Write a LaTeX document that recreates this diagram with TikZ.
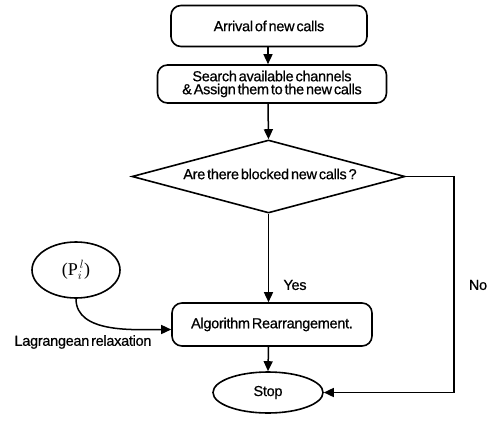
\documentclass[tikz,border=0pt]{standalone}
\usepackage{fontspec}
\setmainfont{Liberation Sans}[WordSpace=0.5,LetterSpace=-2,FakeBold=0.6]
\newfontfamily\serifP{Liberation Serif}
\usetikzlibrary{shapes.geometric,arrows.meta}
\tikzset{
  box/.style={draw,line width=1.6pt,rounded corners=10pt,align=center,inner sep=0pt},
  dia/.style={draw,line width=1.6pt,shape=diamond,inner sep=0pt},
  oval/.style={draw,line width=1.6pt,shape=ellipse,inner sep=0pt},
  conn/.style={line width=1.5pt,-{Triangle[length=10pt,width=9pt]}},
  lbl/.style={inner sep=0pt},
}
\begin{document}
\begin{tikzpicture}[x=1pt,y=-1pt,font=\fontsize{14.5}{13}\selectfont]
\path[use as bounding box] (0,0) rectangle (492,420);
\node[box,minimum width=196pt,minimum height=41pt] (a1) at (269,26) {Arrival of new calls};
\node[box,minimum width=229pt,minimum height=38pt] (a2) at (272,84) {Search available channels\\\& Assign them to the new calls};
\node[dia,minimum width=273pt,minimum height=73pt] (d) at (268.5,176.5) {};
\node[lbl] (dt) at (270,174) {Are there blocked new calls ?};
\node[box,minimum width=200pt,minimum height=43pt] (a3) at (272,324.5) {Algorithm Rearrangement.};
\node[oval,minimum width=110pt,minimum height=41pt] (st) at (268,392.5) {Stop};
\node[oval,minimum width=88pt,minimum height=56pt,font=\serifP\fontsize{18}{18}\selectfont] (p) at (76,270) {(P$^{\,l}_{i}$)};
\node[lbl] (yes) at (295,285) {Yes};
\node[lbl] (no) at (478,285) {No};
\node[lbl] (lr) at (83,342) {Lagrangean relaxation};
\coordinate (nc) at (454,176.5);
\draw[conn] (a1.south -| 268,0) -- (a2.north -| 268,0);
\draw[conn] (a2.south -| 268,0) -- (d.north);
\draw[conn] (d.south) -- (a3.north -| d.south);
\draw[conn] (a3.south -| d.south) -- (st.north);
\draw[conn] (d.east) -- (nc) |- (st.east);
\draw[conn] (p.south) to[out=-90,in=180,looseness=0.9] ([yshift=-5pt]a3.west);
\end{tikzpicture}
\end{document}
